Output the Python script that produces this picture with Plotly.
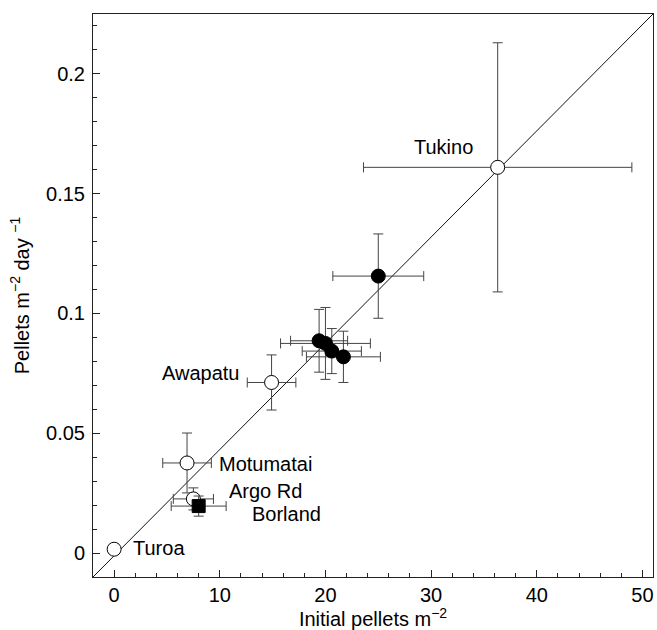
import plotly.graph_objects as go

# --- data ---
open_sites = ["Tukino", "Awapatu", "Motumatai", "Argo Rd", "Turoa"]
open_x = [36.3, 14.9, 6.9, 7.5, 0.0]
open_y = [0.161, 0.0712, 0.0376, 0.0226, 0.0016]
open_xerr = [12.7, 2.3, 2.3, 1.9, None]
open_yerr = [0.052, 0.0115, 0.0125, 0.0046, None]

filled_x = [25.0, 19.4, 20.0, 20.6, 21.7]
filled_y = [0.1156, 0.0886, 0.0875, 0.0843, 0.0819]
filled_xerr = [4.3, 2.7, 4.25, 2.8, 3.5]
filled_yerr = [0.0176, 0.0131, 0.015, 0.0094, 0.0107]

square_sites = ["Borland"]
square_x = [8.0]
square_y = [0.0196]
square_xerr = [2.6]
square_yerr = [0.0042]

fit_slope = 0.004434
fit_intercept = -0.00113
x_range = [-2, 51]
y_range = [-0.01, 0.225]

x_ticks = [0, 10, 20, 30, 40, 50]
y_ticks = [0, 0.05, 0.1, 0.15, 0.2]
y_ticktext = ["0", "0.05", "0.1", "0.15", "0.2"]

# label placement (layout)
label_pos = {
    "Tukino": dict(x=31.2, y=0.1694, xanchor="center"),
    "Awapatu": dict(x=8.2, y=0.0750, xanchor="center"),
    "Motumatai": dict(x=9.7, y=0.0371, xanchor="left"),
    "Argo Rd": dict(x=14.3, y=0.0258, xanchor="center"),
    "Borland": dict(x=16.3, y=0.0165, xanchor="center"),
    "Turoa": dict(x=1.6, y=0.0019, xanchor="left"),
}

FONT = "Arial, 'Liberation Sans', sans-serif"
FS = 20
ebar_color = "#444444"

fig = go.Figure()

# fit line
fit_x = list(x_range)
fit_y = [fit_slope * v + fit_intercept for v in fit_x]
fig.add_trace(go.Scatter(x=fit_x, y=fit_y, mode="lines",
                         line=dict(color="#111111", width=1), hoverinfo="skip"))

def ebar(arr):
    return dict(type="data", array=arr, visible=True, color=ebar_color,
                thickness=1, width=5)

fig.add_trace(go.Scatter(
    x=filled_x, y=filled_y, mode="markers",
    marker=dict(symbol="circle", size=14, color="black",
                line=dict(color="black", width=1)),
    error_x=ebar(filled_xerr), error_y=ebar(filled_yerr)))

fig.add_trace(go.Scatter(
    x=open_x, y=open_y, mode="markers", text=open_sites,
    marker=dict(symbol="circle", size=14, color="white",
                line=dict(color="black", width=1)),
    error_x=ebar(open_xerr), error_y=ebar(open_yerr)))

fig.add_trace(go.Scatter(
    x=square_x, y=square_y, mode="markers", text=square_sites,
    marker=dict(symbol="square", size=13, color="black",
                line=dict(color="black", width=1)),
    error_x=ebar(square_xerr), error_y=ebar(square_yerr)))

for name in open_sites + square_sites:
    p = label_pos[name]
    fig.add_annotation(x=p["x"], y=p["y"], text=name, showarrow=False,
                       xanchor=p["xanchor"], yanchor="middle",
                       font=dict(family=FONT, size=FS, color="black"))

axis_common = dict(
    showline=True, linecolor="#222222", linewidth=1, mirror=True,
    showgrid=False, zeroline=False, ticks="inside", ticklen=7,
    tickcolor="#222222", tickwidth=1,
    tickfont=dict(family=FONT, size=FS, color="black"),
)

fig.update_xaxes(
    range=x_range, tickvals=x_ticks, **axis_common,
    minor=dict(dtick=2, ticks="inside", ticklen=4, tickcolor="#222222"),
    title=dict(text="Initial pellets m<sup>−2</sup>",
               font=dict(family=FONT, size=FS, color="black"), standoff=7),
)
fig.update_yaxes(
    range=y_range, tickvals=y_ticks, ticktext=y_ticktext, **axis_common,
    ticklabelstandoff=3,
    minor=dict(dtick=0.01, ticks="inside", ticklen=4, tickcolor="#222222"),
    title=dict(text="Pellets m<sup>−2</sup> day <sup>−1</sup>",
               font=dict(family=FONT, size=FS, color="black"), standoff=11),
)

fig.update_layout(
    width=657, height=630, showlegend=False,
    plot_bgcolor="white", paper_bgcolor="white",
    margin=dict(l=93, r=4, t=14, b=53, autoexpand=False),
    font=dict(family=FONT),
)

fig.write_html(
    "out.html",
    config={"displayModeBar": False},
    post_script="document.body.style.margin='0px';"
                "document.documentElement.style.overflow='hidden';",
)
